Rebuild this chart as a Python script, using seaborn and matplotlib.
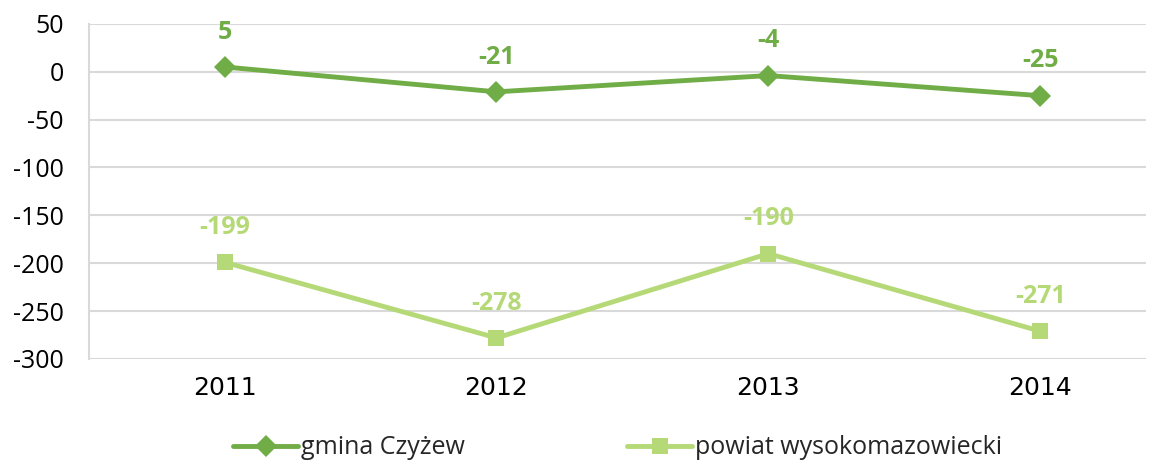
import matplotlib
matplotlib.use("Agg")
import matplotlib.pyplot as plt
import pandas as pd
import seaborn as sns

years = ["2011", "2012", "2013", "2014"]
gmina = [5, -21, -4, -25]
powiat = [-199, -278, -190, -271]
series_names = ["gmina Czyżew", "powiat wysokomazowiecki"]
colors = {"gmina Czyżew": "#70AD47", "powiat wysokomazowiecki": "#B6D978"}

df = pd.DataFrame({
    "year": years * 2,
    "value": gmina + powiat,
    "series": [series_names[0]] * 4 + [series_names[1]] * 4,
})

sns.set_theme(style="white")
plt.rcParams["font.family"] = ["Open Sans", "DejaVu Sans"]
plt.rcParams["axes.unicode_minus"] = False

fig = plt.figure(figsize=(11.52, 4.68), dpi=100)
ax = fig.add_axes([0.077, 0.233, 0.918, 0.716])

sns.lineplot(data=df, x="year", y="value", hue="series", style="series",
             markers={series_names[0]: "D", series_names[1]: "s"}, dashes=False,
             palette=colors, linewidth=3.5, markersize=11, markeredgewidth=0,
             ax=ax, legend=True)

for name, vals in zip(series_names, [gmina, powiat]):
    for i, v in enumerate(vals):
        ax.annotate(str(v), (i, v), xytext=(0, 16), textcoords="offset points",
                    ha="center", va="bottom", fontsize=18, fontweight="bold",
                    color=colors[name])

ax.set_ylim(-300, 50)
ax.set_yticks(range(-300, 51, 50))
ax.set_xlim(-0.5, 3.39)
ax.yaxis.grid(True, color="#D9D9D9", linewidth=1.5)
ax.set_axisbelow(True)
for s in ["top", "right", "bottom"]:
    ax.spines[s].set_visible(False)
ax.spines["left"].set_color("#D9D9D9")
ax.spines["left"].set_linewidth(1.5)
ax.set_xlabel("")
ax.set_ylabel("")
ax.tick_params(axis="both", length=0, labelsize=18, colors="black")
ax.tick_params(axis="x", pad=12)
ax.tick_params(axis="y", pad=18)
for lbl in ax.get_xticklabels():
    lbl.set_fontproperties({"family": "DejaVu Sans", "size": 18})

handles, labels = ax.get_legend_handles_labels()
ax.legend(handles, labels, loc="lower center", bbox_to_anchor=(0.5, -0.37),
          ncol=2, frameon=False, fontsize=18, columnspacing=6.5,
          handlelength=2.6, handletextpad=0.1)

fig.savefig("out.png", dpi=100)
